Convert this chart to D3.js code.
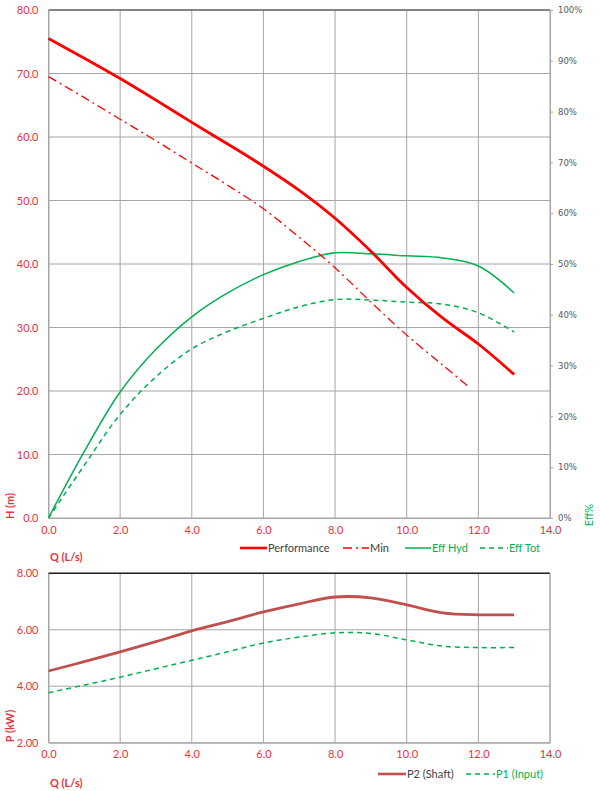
<!DOCTYPE html>
<html><head><meta charset="utf-8">
<script src="https://cdn.jsdelivr.net/npm/d3@7"></script>
<style>body{margin:0;background:#fff}svg{display:block}</style>
</head><body>
<svg id="c" width="600" height="791"></svg>
<script>
// ---- data ----
const flowQ = [0,1,2,3,4,5,6,7,8,9,10,11,12,13];
const headPerf = [75.5,72.4,69.2,65.8,62.3,58.9,55.4,51.6,47.2,42.0,36.3,31.5,27.4,22.6];
const flowMin = [0,1,2,3,4,5,6,7,8,9,10,11,11.7];
const headMin = [69.5,66.2,62.8,59.4,55.9,52.4,48.7,44.2,39.4,34.0,28.8,24.1,20.8];
const effHyd = [0,13.1,24.8,33.2,39.6,44.3,47.9,50.5,52.2,52.0,51.6,51.2,49.6,44.3];
const effTot = [0,10.4,20.4,27.8,33.3,36.7,39.3,41.6,43.0,42.9,42.5,42.1,40.4,36.6];
const powerP2 = [4.54,4.87,5.22,5.58,5.96,6.29,6.63,6.92,7.16,7.13,6.88,6.60,6.53,6.53];
const powerP1 = [3.77,4.04,4.32,4.62,4.92,5.22,5.53,5.74,5.89,5.87,5.64,5.42,5.37,5.37];
const qTicks = [0,2,4,6,8,10,12,14];
const hTicks = [0,10,20,30,40,50,60,70,80];
const effTicks = [0,10,20,30,40,50,60,70,80,90,100];
const pTicks = [2,4,6,8];
const legendTop = ["Performance","Min","Eff Hyd","Eff Tot"];
const legendBottom = ["P2 (Shaft)","P1 (Input)"];

const svg = d3.select("#c");
const RED = "#ff0000", LBL = "#e8323c", GREEN = "#00b050", P2C = "#c0504d", GRID = "#a6a6a6";
const FONT = "Lato, 'Open Sans', sans-serif";
const L = 48.5, R = 550;

const x = d3.scaleLinear().domain([0,14]).range([L,R]);
// top chart
const yT = d3.scaleLinear().domain([0,80]).range([518,10]);
const yE = d3.scaleLinear().domain([0,100]).range([518,10]);
// bottom chart
const yB = d3.scaleLinear().domain([2,8]).range([742.7,573.3]);

function grid(yScale, yTicksArr, top, bottom){
  const g = svg.append("g");
  g.selectAll(".h").data(yTicksArr).join("line")
    .attr("x1",L).attr("x2",R).attr("y1",d=>yScale(d)).attr("y2",d=>yScale(d))
    .attr("stroke",GRID).attr("stroke-width",1);
  g.selectAll(".v").data(qTicks).join("line")
    .attr("x1",d=>x(d)).attr("x2",d=>x(d)).attr("y1",top).attr("y2",bottom)
    .attr("stroke",GRID).attr("stroke-width",1);
}
grid(yT, hTicks, 10, 518);
grid(yB, pTicks, 573.3, 742.7);
// top borders
svg.append("line").attr("x1",L).attr("x2",R).attr("y1",10).attr("y2",10).attr("stroke","#6b6b6b").attr("stroke-width",1.5);
svg.append("line").attr("x1",L).attr("x2",R).attr("y1",573.3).attr("y2",573.3).attr("stroke","#222").attr("stroke-width",1.5);

// axes
function leftAxis(yScale, ticks, fmt){
  const g = svg.append("g").attr("transform",`translate(${L},0)`)
    .call(d3.axisLeft(yScale).tickValues(ticks).tickFormat(fmt).tickSize(0).tickPadding(10));
  g.select(".domain").attr("stroke",GRID);
  g.selectAll("text").attr("fill",LBL).style("font-family",FONT).style("font-size","11px");
}
leftAxis(yT, hTicks, d3.format(".1f"));
leftAxis(yB, pTicks, d3.format(".2f"));

function bottomAxis(y0){
  const g = svg.append("g").attr("transform",`translate(0,${y0})`)
    .call(d3.axisBottom(x).tickValues(qTicks).tickFormat(d3.format(".1f")).tickSize(0).tickPadding(8));
  g.select(".domain").attr("stroke",GRID);
  g.selectAll("text").attr("fill",LBL).style("font-family",FONT).style("font-size","11px");
}
bottomAxis(518);
bottomAxis(742.7);

const ra = svg.append("g").attr("transform",`translate(${R},0)`)
  .call(d3.axisRight(yE).tickValues(effTicks).tickFormat(d=>d+"%").tickSize(3).tickPadding(5));
ra.select(".domain").attr("stroke",GRID);
ra.selectAll("line").attr("stroke",GRID);
ra.selectAll("text").attr("fill","#595959").style("font-family","'DejaVu Sans', Verdana, sans-serif").style("font-size","8.5px");
// right border bottom chart
svg.append("line").attr("x1",R).attr("x2",R).attr("y1",573.3).attr("y2",742.7).attr("stroke",GRID);

// axis titles
function vTitle(txt, cx, cy, color){
  svg.append("text").attr("transform",`translate(${cx},${cy}) rotate(-90)`)
    .attr("text-anchor","middle").attr("fill",color).style("font-family",FONT)
    .style("font-size","11px").style("font-weight","bold").text(txt);
}
vTitle("H (m)", 14, 506, LBL);
vTitle("P (kW)", 14, 726, LBL);
svg.append("text").attr("transform",`translate(593,515) rotate(-90)`).attr("text-anchor","middle")
  .attr("fill",GREEN).style("font-family",FONT).style("font-size","11px").text("Eff%");
svg.append("text").attr("x",50).attr("y",560.5).attr("fill",LBL).style("font-family",FONT)
  .style("font-size","11px").style("font-weight","bold").text("Q (L/s)");
svg.append("text").attr("x",50).attr("y",786.5).attr("fill",LBL).style("font-family",FONT)
  .style("font-size","11px").style("font-weight","bold").text("Q (L/s)");

// lines
const curve = d3.curveCatmullRom.alpha(0.5);
function drawLine(xs, ys, yScale, color, w, dash){
  const pts = xs.map((q,i)=>[q, ys[i]]);
  svg.append("path").datum(pts)
    .attr("d", d3.line().x(d=>x(d[0])).y(d=>yScale(d[1])).curve(curve))
    .attr("fill","none").attr("stroke",color).attr("stroke-width",w)
    .attr("stroke-dasharray",dash||null).attr("stroke-linejoin","round");
}
drawLine(flowQ, effTot, yE, GREEN, 1.5, "5,4");
drawLine(flowQ, effHyd, yE, GREEN, 1.5);
drawLine(flowMin, headMin, yT, RED, 1.3, "9,4,2,4");
drawLine(flowQ, headPerf, yT, RED, 2.8);
drawLine(flowQ, powerP1, yB, GREEN, 1.5, "5,4");
drawLine(flowQ, powerP2, yB, P2C, 2.8);

// legends
function legendItem(x1, x2, y, color, w, dash, label, tcolor){
  svg.append("line").attr("x1",x1).attr("x2",x2).attr("y1",y).attr("y2",y)
    .attr("stroke",color).attr("stroke-width",w).attr("stroke-dasharray",dash||null);
  svg.append("text").attr("x",x2+1).attr("y",y+4).attr("fill",tcolor)
    .style("font-family",FONT).style("font-size","11px").text(label);
}
legendItem(240, 267, 548, RED, 2.6, null, legendTop[0], "#404040");
legendItem(343, 369, 548, RED, 1.3, "9,4,2,4", legendTop[1], "#404040");
legendItem(405, 431, 548, GREEN, 1.5, null, legendTop[2], GREEN);
legendItem(480, 508, 548, GREEN, 1.5, "5,4", legendTop[3], GREEN);
legendItem(378, 406, 774, P2C, 2.6, null, legendBottom[0], "#404040");
legendItem(466, 495, 774, GREEN, 1.5, "5,4", legendBottom[1], GREEN);
</script>
</body></html>
